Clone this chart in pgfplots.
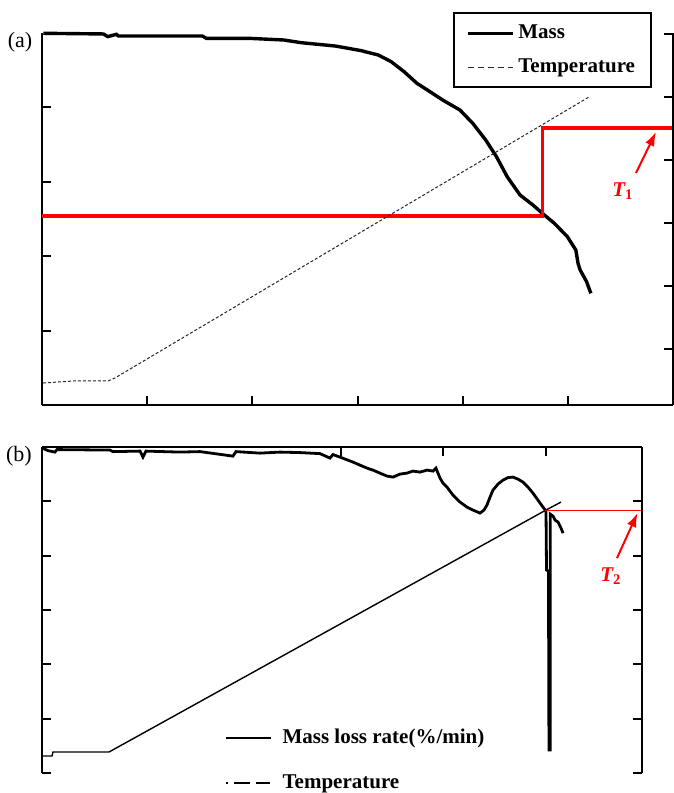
\documentclass[border=0pt]{standalone}
\usepackage{pgfplots}
\pgfplotsset{compat=1.18}
\usetikzlibrary{arrows.meta}
\usepackage{fontspec}
\setmainfont{Liberation Serif}

\pgfplotsset{
  panel/.style={
    scale only axis, clip=false,
    xticklabels={}, yticklabels={},
    tick align=inside, major tick length=4.5pt,
    tick style={black, line width=1pt},
    axis line style={line width=1pt},
    legend cell align=left,
    legend image code/.code={\draw[##1] (0pt,0pt) -- (22.5pt,0pt);},
  },
}
\newcommand{\legfont}{\fontsize{10.5}{12}\selectfont\bfseries}

\begin{document}
\begin{tikzpicture}
\path[use as bounding box] (0,0) rectangle (337pt,396.5pt);

% ---------------- (a) mass / temperature ----------------
\begin{axis}[panel, at={(21pt,194pt)}, anchor=south west,
    width=315.5pt, height=186pt,
    xmin=0, xmax=6, ymin=0, ymax=5,
    axis x line*=bottom, axis y line*=left,
    xtick={1,...,5}, ytick={1,...,4},
    legend style={draw=black, line width=1pt, fill=white,
      at={(0.6513,1.0565)}, anchor=north west,
      inner xsep=6pt, inner ysep=4pt, row sep=4.5pt,
      font=\legfont, nodes={inner sep=2pt}},
]
\addplot[black, line width=1.7pt] table {
x y
0.012 4.996
0.584 4.987
0.625 4.951
0.707 4.982
0.727 4.960
1.523 4.960
1.564 4.928
1.973 4.928
2.299 4.906
2.463 4.870
2.789 4.825
3.034 4.763
3.198 4.704
3.320 4.615
3.443 4.480
3.565 4.324
3.688 4.212
3.810 4.099
3.974 3.965
4.096 3.786
4.219 3.562
4.321 3.338
4.423 3.069
4.545 2.823
4.668 2.688
4.758 2.576
4.872 2.442
4.995 2.263
5.076 2.083
5.097 1.904
5.117 1.815
5.178 1.658
5.219 1.501
};
\addlegendentry{Mass}
\addlegendimage{black!85, line width=0.5pt, dash pattern=on 3pt off 2pt}
\addlegendentry{Temperature}

\addplot[red, line width=1.8pt, forget plot] coordinates {
  (0,2.540) (4.758,2.540) (4.758,3.72) (6,3.72)};
\draw[red, line width=1pt, -{Latex[length=7pt,width=5pt]}]
  (axis cs:5.648,3.118) -- (axis cs:5.838,3.669);
\node[red] at (axis cs:5.524,2.87) {\legfont\itshape T\textsubscript{\upshape 1}};
\end{axis}

\begin{axis}[panel, at={(21pt,194pt)}, anchor=south west,
    width=315.5pt, height=186pt,
    xmin=0, xmax=6, ymin=0.111, ymax=6.016,
    hide x axis, axis y line*=right, ytick={1,...,6},
]
\addplot[black!85, line width=0.5pt, dash pattern=on 1.5pt off 1pt] table {
x y
0.010 0.460
0.300 0.492
0.628 0.492
0.694 0.540
5.201 5.000
};
\end{axis}

\node at (10pt,375.5pt) {\fontsize{11}{13}\selectfont (a)};

% ---------------- (b) mass loss rate / temperature ----------------
\begin{axis}[panel, at={(21pt,9.85pt)}, anchor=south west,
    width=300pt, height=163.3pt,
    xmin=0.064, xmax=5.946, ymin=0, ymax=6,
    axis x line*=top, axis y line*=left,
    xtick={3,4,5}, ytick={0,...,5},
    legend style={draw=none, fill=none,
      at={(0.305,0.148)}, anchor=north west,
      inner xsep=0pt, inner ysep=0pt, row sep=10pt, column sep=3pt,
      font=\legfont, nodes={inner sep=2pt}},
]
\addplot[black, line width=1.4pt, forget plot] table {
x y
0.064 5.978
0.123 5.928
0.191 5.901
0.211 5.947
0.730 5.938
0.760 5.910
1.025 5.919
1.054 5.809
1.083 5.919
1.417 5.901
1.613 5.910
1.936 5.827
1.966 5.910
2.201 5.882
2.397 5.901
2.593 5.892
2.789 5.873
2.887 5.791
2.917 5.855
2.985 5.809
3.113 5.717
3.181 5.662
3.250 5.607
3.309 5.570
3.377 5.515
3.446 5.460
3.505 5.442
3.574 5.497
3.642 5.515
3.701 5.552
3.770 5.533
3.838 5.570
3.897 5.552
3.926 5.607
3.966 5.423
3.995 5.331
4.034 5.258
4.093 5.111
4.162 4.983
4.230 4.891
4.289 4.836
4.358 4.781
4.397 4.836
4.426 4.928
4.456 5.073
4.485 5.202
4.534 5.313
4.583 5.386
4.632 5.432
4.681 5.442
4.730 5.405
4.779 5.350
4.828 5.258
4.877 5.148
4.926 5.019
4.975 4.891
5.005 4.818
5.010 3.734
5.029 3.715
5.034 0.428
5.046 0.428
5.046 4.762
5.074 4.725
5.093 4.652
5.123 4.615
5.152 4.505
5.172 4.413
};
\addlegendimage{black, line width=0.9pt}
\addlegendentry{Mass loss rate(\%/min)}
\addlegendimage{black, line width=1.1pt,
  dash pattern=on 0.6pt off 3.4pt on 7.9pt off 2.8pt on 7.3pt off 5pt}
\addlegendentry{Temperature}

\addplot[black, line width=0.7pt, forget plot] table {
x y
0.064 0.318
0.162 0.318
0.172 0.391
0.721 0.391
4.995 4.826
5.152 4.983
};
\addplot[black, line width=1.2pt, dash pattern=on 5pt off 7pt, forget plot] table {
x y
5.044 4.652
5.044 0.428
};

\addplot[red, line width=0.8pt, forget plot] coordinates {(4.995,4.826) (5.946,4.826)};
\draw[red, line width=1pt, -{Latex[length=7pt,width=5pt]}]
  (axis cs:5.701,3.953) -- (axis cs:5.902,4.781);
\node[red] at (axis cs:5.642,3.62) {\legfont\itshape T\textsubscript{\upshape 2}};
\end{axis}

\begin{axis}[panel, at={(21pt,9.85pt)}, anchor=south west,
    width=300pt, height=163.3pt,
    xmin=0.064, xmax=5.946, ymin=0, ymax=6,
    hide x axis, axis y line*=right, ytick={0,...,5},
]
\end{axis}

\node at (9.5pt,168.5pt) {\fontsize{11}{13}\selectfont (b)};
\end{tikzpicture}
\end{document}
